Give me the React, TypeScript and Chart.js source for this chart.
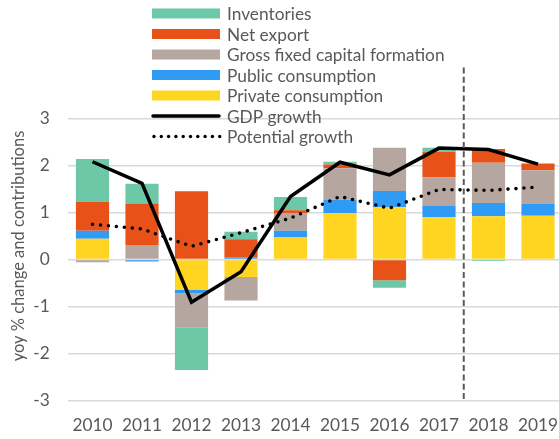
import React, { useEffect, useRef } from "react";
import { Chart, registerables } from "chart.js";

Chart.register(...registerables);

const years = ["2010", "2011", "2012", "2013", "2014", "2015", "2016", "2017", "2018", "2019"];
const privateConsumption = [0.44, 0, -0.65, -0.37, 0.47, 0.99, 1.11, 0.9, 0.92, 0.93];
const publicConsumption = [0.17, -0.04, -0.07, 0.05, 0.14, 0.28, 0.35, 0.24, 0.28, 0.26];
const grossFixedCapital = [-0.06, 0.31, -0.72, -0.5, 0.37, 0.67, 0.92, 0.61, 0.86, 0.71];
const netExport = [0.62, 0.88, 1.45, 0.38, 0.07, 0.08, -0.44, 0.54, 0.29, 0.14];
const inventories = [0.91, 0.42, -0.91, 0.16, 0.28, 0.06, -0.16, 0.09, -0.03, 0];
const gdpGrowth = [2.08, 1.62, -0.91, -0.26, 1.34, 2.07, 1.8, 2.37, 2.34, 2.03];
const potentialGrowth = [0.75, 0.65, 0.28, 0.57, 0.88, 1.34, 1.09, 1.49, 1.47, 1.54];
const yMin = -3;
const yMax = 3;
const forecastStartIndex = 8;
const yTitle = "yoy % change and contributions";

const FONT = "Lato";
const TEXT = "#595959";
const C_INV = "#6DC8A8";
const C_NET = "#E85218";
const C_GFCF = "#B5A69F";
const C_PUB = "#2F9BF5";
const C_PRIV = "#FFD522";

const legendItems = [
  { label: "Inventories", kind: "box", color: C_INV },
  { label: "Net export", kind: "box", color: C_NET },
  { label: "Gross fixed capital formation", kind: "box", color: C_GFCF },
  { label: "Public consumption", kind: "box", color: C_PUB },
  { label: "Private consumption", kind: "box", color: C_PRIV },
  { label: "GDP growth", kind: "line", color: "#000" },
  { label: "Potential growth", kind: "dots", color: "#000" },
];

const overlayPlugin = {
  id: "overlay",
  afterDraw(chart: any) {
    const ctx = chart.ctx;
    const xs = chart.scales.x;
    const area = chart.chartArea;
    // forecast divider
    const xDiv = (xs.getPixelForValue(forecastStartIndex - 1) + xs.getPixelForValue(forecastStartIndex)) / 2;
    ctx.save();
    ctx.strokeStyle = "#595959";
    ctx.lineWidth = 2;
    ctx.setLineDash([6, 3.3]);
    ctx.beginPath();
    ctx.moveTo(xDiv, area.top - 51);
    ctx.lineTo(xDiv, area.bottom);
    ctx.stroke();
    ctx.restore();

    // y axis title
    ctx.save();
    ctx.translate(19, 246);
    ctx.rotate(-Math.PI / 2);
    ctx.font = `16.5px ${FONT}`;
    ctx.fillStyle = TEXT;
    ctx.textAlign = "center";
    ctx.textBaseline = "middle";
    ctx.fillText(yTitle, 0, 0);
    ctx.restore();

    // legend
    ctx.save();
    const sx = 152;
    const sw = 68;
    const tx = 227;
    const y0 = 13.5;
    const dy = 20.5;
    ctx.font = `17.3px ${FONT}`;
    ctx.textBaseline = "middle";
    ctx.fillStyle = TEXT;
    legendItems.forEach((it, i) => {
      const cy = y0 + i * dy;
      if (it.kind === "box") {
        ctx.fillStyle = it.color;
        ctx.fillRect(sx, cy - 5, sw, 10);
      } else if (it.kind === "line") {
        ctx.strokeStyle = it.color;
        ctx.lineWidth = 3.5;
        ctx.lineCap = "round";
        ctx.beginPath();
        ctx.moveTo(sx + 1, cy);
        ctx.lineTo(sx + sw - 1, cy);
        ctx.stroke();
      } else {
        ctx.fillStyle = it.color;
        for (let k = 0; k < 10; k++) {
          ctx.beginPath();
          ctx.arc(sx + 2 + k * 7.3, cy, 1.7, 0, Math.PI * 2);
          ctx.fill();
        }
      }
      ctx.fillStyle = TEXT;
      ctx.fillText(it.label, tx, cy + 1);
    });
    ctx.restore();
  },
};

export default function App() {
  const ref = useRef<HTMLCanvasElement>(null);
  useEffect(() => {
    if (!ref.current) return;
    const barBase = {
      type: "bar" as const,
      stack: "bars",
      order: 2,
      barPercentage: 0.67,
      categoryPercentage: 1,
      borderWidth: 0,
    };
    const chart = new Chart(ref.current, {
      type: "bar",
      data: {
        labels: years,
        datasets: [
          { ...barBase, label: "Private consumption", data: privateConsumption, backgroundColor: C_PRIV },
          { ...barBase, label: "Public consumption", data: publicConsumption, backgroundColor: C_PUB },
          { ...barBase, label: "Gross fixed capital formation", data: grossFixedCapital, backgroundColor: C_GFCF },
          { ...barBase, label: "Net export", data: netExport, backgroundColor: C_NET },
          { ...barBase, label: "Inventories", data: inventories, backgroundColor: C_INV },
          {
            type: "line",
            label: "GDP growth",
            data: gdpGrowth,
            stack: "gdp",
            order: 0,
            borderColor: "#000",
            borderWidth: 3.5,
            pointRadius: 0,
            tension: 0,
            fill: false,
            borderJoinStyle: "miter",
          } as any,
          {
            type: "line",
            label: "Potential growth",
            data: potentialGrowth,
            stack: "pot",
            order: 1,
            borderColor: "#000",
            borderWidth: 3.6,
            borderDash: [0, 8],
            borderCapStyle: "round",
            pointRadius: 0,
            tension: 0,
            fill: false,
          } as any,
        ],
      },
      options: {
        responsive: false,
        animation: false,
        events: [],
        layout: { padding: { top: 118.5, right: 12.25, left: 0, bottom: 0 } },
        plugins: { legend: { display: false }, tooltip: { enabled: false }, title: { display: false } },
        scales: {
          x: {
            stacked: true,
            offset: true,
            grid: { display: false, drawTicks: false },
            border: { display: false },
            ticks: { color: TEXT, font: { family: FONT, size: 17.3 }, padding: 15, maxRotation: 0 },
            afterFit(scale: any) {
              scale.height = 38.5;
            },
          },
          y: {
            stacked: true,
            min: yMin,
            max: yMax,
            grid: { color: "#D9D9D9", lineWidth: 1.5, drawTicks: false },
            border: { display: false },
            ticks: { stepSize: 1, color: TEXT, font: { family: FONT, size: 17.3 }, padding: 18 },
            title: { display: false },
            afterFit(scale: any) {
              scale.width = 67.75;
            },
          },
        },
      },
      plugins: [overlayPlugin],
    });
    return () => chart.destroy();
  }, []);
  return (
    <div style={{ position: "fixed", left: 0, top: 0, width: 559, height: 439, overflow: "hidden", background: "#fff" }}>
      <canvas ref={ref} width={575} height={439} style={{ display: "block" }} />
    </div>
  );
}
